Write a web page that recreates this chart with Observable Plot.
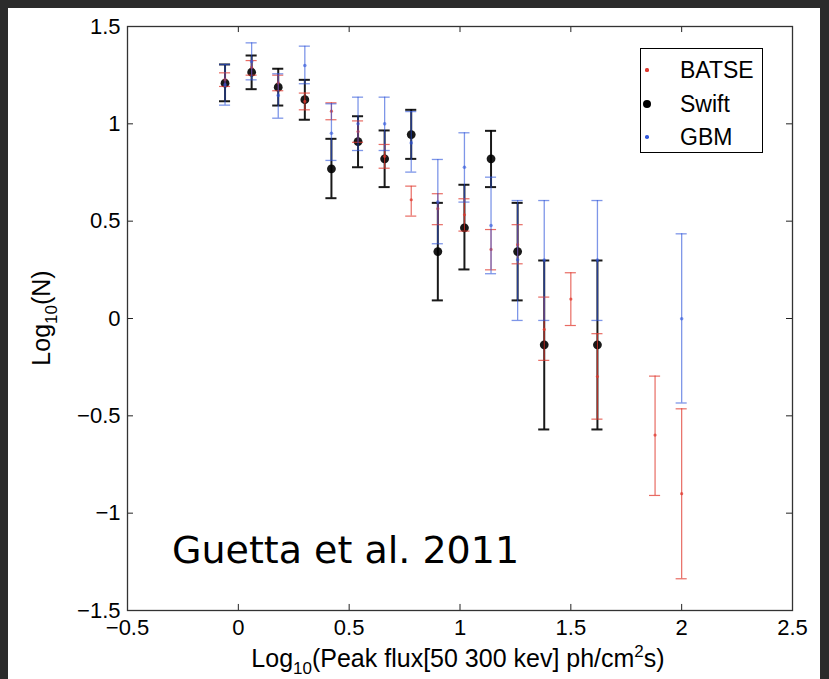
<!DOCTYPE html>
<html>
<head>
<meta charset="utf-8">
<script src="https://cdn.jsdelivr.net/npm/d3@7"></script>
<script src="https://cdn.jsdelivr.net/npm/@observablehq/plot@0.6"></script>
<style>
  html, body { margin: 0; padding: 0; }
  body { background: #2b2b2b; width: 829px; height: 679px; position: relative; overflow: hidden; font-family: "Liberation Sans", Arial, sans-serif; }
  #paper { position: absolute; left: 8px; top: 8px; width: 812px; height: 671px; background: #fff; }
  #chart { position: absolute; left: 0; top: 0; }
  #legend { position: absolute; left: 640px; top: 48px; width: 123px; height: 105px; border: 1px solid #000; background: #fff; box-sizing: border-box; }
  .li { position: absolute; left: 0; font-size: 23px; color: #000; line-height: 1; }
  .li .mk { position: absolute; border-radius: 50%; }
  .li .lb { position: absolute; left: 39px; top: -11px; white-space: nowrap; }
  #note { position: absolute; left: 172px; top: 528px; font-family: "Comic Sans MS", "DejaVu Sans", sans-serif; font-size: 38px; color: #000; white-space: nowrap; }
</style>
</head>
<body>
<div id="paper"></div>
<div id="chart"></div>
<div id="legend"></div>
<div id="note">Guetta et al. 2011</div>
<script>
// ---- data ----
const seriesNames = ["BATSE", "Swift", "GBM"];

const batseX  = [-0.06, 0.06, 0.18, 0.30, 0.42, 0.54, 0.66, 0.78, 0.90, 1.02, 1.14, 1.26, 1.38, 1.50, 1.62, 1.88, 2.00];
const batseY  = [1.228, 1.29, 1.21, 1.115, 1.065, 0.96, 0.833, 0.61, 0.564, 0.533, 0.355, 0.379, -0.056, 0.10, -0.298, -0.599, -0.90];
const batseLo = [1.192, 1.25, 1.17, 1.072, 1.021, 0.905, 0.772, 0.526, 0.482, 0.449, 0.25, 0.281, -0.215, -0.036, -0.517, -0.909, -1.337];
const batseHi = [1.262, 1.325, 1.25, 1.158, 1.108, 1.015, 0.894, 0.68, 0.641, 0.615, 0.457, 0.482, 0.110, 0.235, -0.078, -0.296, -0.464];

const swiftX  = [-0.06, 0.06, 0.18, 0.30, 0.42, 0.54, 0.66, 0.78, 0.90, 1.02, 1.14, 1.26, 1.38, 1.62];
const swiftY  = [1.209, 1.265, 1.188, 1.124, 0.769, 0.909, 0.820, 0.945, 0.344, 0.466, 0.820, 0.344, -0.135, -0.135];
const swiftLo = [1.116, 1.178, 1.094, 1.021, 0.618, 0.777, 0.675, 0.820, 0.093, 0.252, 0.675, 0.093, -0.570, -0.570];
const swiftHi = [1.305, 1.351, 1.283, 1.226, 0.923, 1.039, 0.966, 1.072, 0.594, 0.687, 0.964, 0.594, 0.298, 0.298];

const gbmX  = [-0.06, 0.06, 0.18, 0.30, 0.42, 0.54, 0.66, 0.78, 0.90, 1.02, 1.14, 1.26, 1.38, 1.62, 2.00];
const gbmY  = [1.20, 1.32, 1.146, 1.30, 0.952, 1.0, 1.0, 0.902, 0.598, 0.777, 0.478, 0.302, 0.30, 0.30, -0.001];
const gbmLo = [1.096, 1.226, 1.029, 1.206, 0.812, 0.863, 0.863, 0.752, 0.384, 0.598, 0.230, -0.01, -0.01, -0.01, -0.434];
const gbmHi = [1.305, 1.416, 1.257, 1.399, 1.103, 1.137, 1.137, 1.063, 0.817, 0.954, 0.726, 0.606, 0.606, 0.606, 0.435];

const xTicks = [-0.5, 0, 0.5, 1, 1.5, 2, 2.5];
const yTicks = [-1.5, -1, -0.5, 0, 0.5, 1, 1.5];

// ---- build tables ----
const rows = (xs, ys, lo, hi) => xs.map((x, i) => ({x, y: ys[i], lo: lo[i], hi: hi[i]}));
const batse = rows(batseX, batseY, batseLo, batseHi);
const swift = rows(swiftX, swiftY, swiftLo, swiftHi);
const gbm = rows(gbmX, gbmY, gbmLo, gbmHi);

const RED = "#e0392f", BLACK = "#000000", BLUE = "#2f56da";
const cw = 0.025;   // half cap width (x units)
const tlY = 0.031;  // tick length in y units
const tlX = 0.027;  // tick length in x units
const fmt = d => (d < 0 ? "\u2212" : "") + String(Math.abs(d));

function errMarks(data, color, opts) {
  return [
    Plot.ruleX(data, {x: "x", y1: "lo", y2: "hi", stroke: color, strokeWidth: opts.sw, strokeOpacity: opts.op}),
    Plot.ruleY(data, {y: "hi", x1: d => d.x - cw, x2: d => d.x + cw, stroke: color, strokeWidth: opts.sw, strokeOpacity: opts.op}),
    Plot.ruleY(data, {y: "lo", x1: d => d.x - cw, x2: d => d.x + cw, stroke: color, strokeWidth: opts.sw, strokeOpacity: opts.op}),
    Plot.dot(data, {x: "x", y: "y", r: opts.r, fill: color, fillOpacity: opts.op, stroke: "none"})
  ];
}

const chart = Plot.plot({
  width: 829,
  height: 679,
  marginLeft: 127,
  marginRight: 37,
  marginTop: 26,
  marginBottom: 69,
  x: {domain: [-0.5, 2.5]},
  y: {domain: [-1.5, 1.5]},
  style: {background: "transparent", color: "#000", fontFamily: "'Liberation Sans', Arial, sans-serif", overflow: "visible"},
  marks: [
    ...errMarks(swift, BLACK, {sw: 2, op: 0.9, r: 4.4}),
    ...errMarks(batse, RED, {sw: 1.2, op: 0.75, r: 1.6}),
    ...errMarks(gbm, BLUE, {sw: 1.3, op: 0.62, r: 1.8}),
    // inward ticks
    Plot.ruleX(xTicks, {x: d => d, y1: -1.5, y2: -1.5 + tlY, stroke: "#222"}),
    Plot.ruleX(xTicks, {x: d => d, y1: 1.5, y2: 1.5 - tlY, stroke: "#222"}),
    Plot.ruleY(yTicks, {y: d => d, x1: -0.5, x2: -0.5 + tlX, stroke: "#222"}),
    Plot.ruleY(yTicks, {y: d => d, x1: 2.5, x2: 2.5 - tlX, stroke: "#222"}),
    Plot.frame({stroke: "#333", strokeWidth: 1.3}),
    Plot.axisX(xTicks, {tickSize: 0, tickPadding: 9, fontSize: 22, label: null, tickFormat: fmt}),
    Plot.axisY(yTicks, {tickSize: 0, tickPadding: 7, fontSize: 22, label: null, tickFormat: fmt})
  ]
});
document.getElementById("chart").appendChild(chart);

// axis titles
const svg = d3.select(chart);
const xl = svg.append("text")
  .attr("x", 458).attr("y", 667)
  .attr("text-anchor", "middle")
  .attr("font-family", "'Liberation Sans', Arial, sans-serif")
  .attr("font-size", 25).attr("fill", "#000");
xl.append("tspan").text("Log");
xl.append("tspan").attr("dy", 7).attr("font-size", 17).text("10");
xl.append("tspan").attr("dy", -7).text("(Peak flux[50 300 kev] ph/cm");
xl.append("tspan").attr("dy", -10).attr("font-size", 17).text("2");
xl.append("tspan").attr("dy", 10).text("s)");

const yl = svg.append("text")
  .attr("transform", "translate(50,318) rotate(-90)")
  .attr("text-anchor", "middle")
  .attr("font-family", "'Liberation Sans', Arial, sans-serif")
  .attr("font-size", 25).attr("fill", "#000");
yl.append("tspan").text("Log");
yl.append("tspan").attr("dy", 7).attr("font-size", 17).text("10");
yl.append("tspan").attr("dy", -7).text("(N)");

// legend
const legendSpec = [
  {name: seriesNames[0], color: RED, r: 1.6, cy: 21},
  {name: seriesNames[1], color: BLACK, r: 4.4, cy: 55},
  {name: seriesNames[2], color: BLUE, r: 1.8, cy: 88}
];
const lg = document.getElementById("legend");
legendSpec.forEach(s => {
  const row = document.createElement("div");
  row.className = "li";
  row.style.top = s.cy + "px";
  const mk = document.createElement("span");
  mk.className = "mk";
  mk.style.width = (2 * s.r) + "px";
  mk.style.height = (2 * s.r) + "px";
  mk.style.left = (6 - s.r) + "px";
  mk.style.top = (-s.r) + "px";
  mk.style.background = s.color;
  const lb = document.createElement("span");
  lb.className = "lb";
  lb.textContent = s.name;
  row.appendChild(mk);
  row.appendChild(lb);
  lg.appendChild(row);
});
</script>
</body>
</html>
